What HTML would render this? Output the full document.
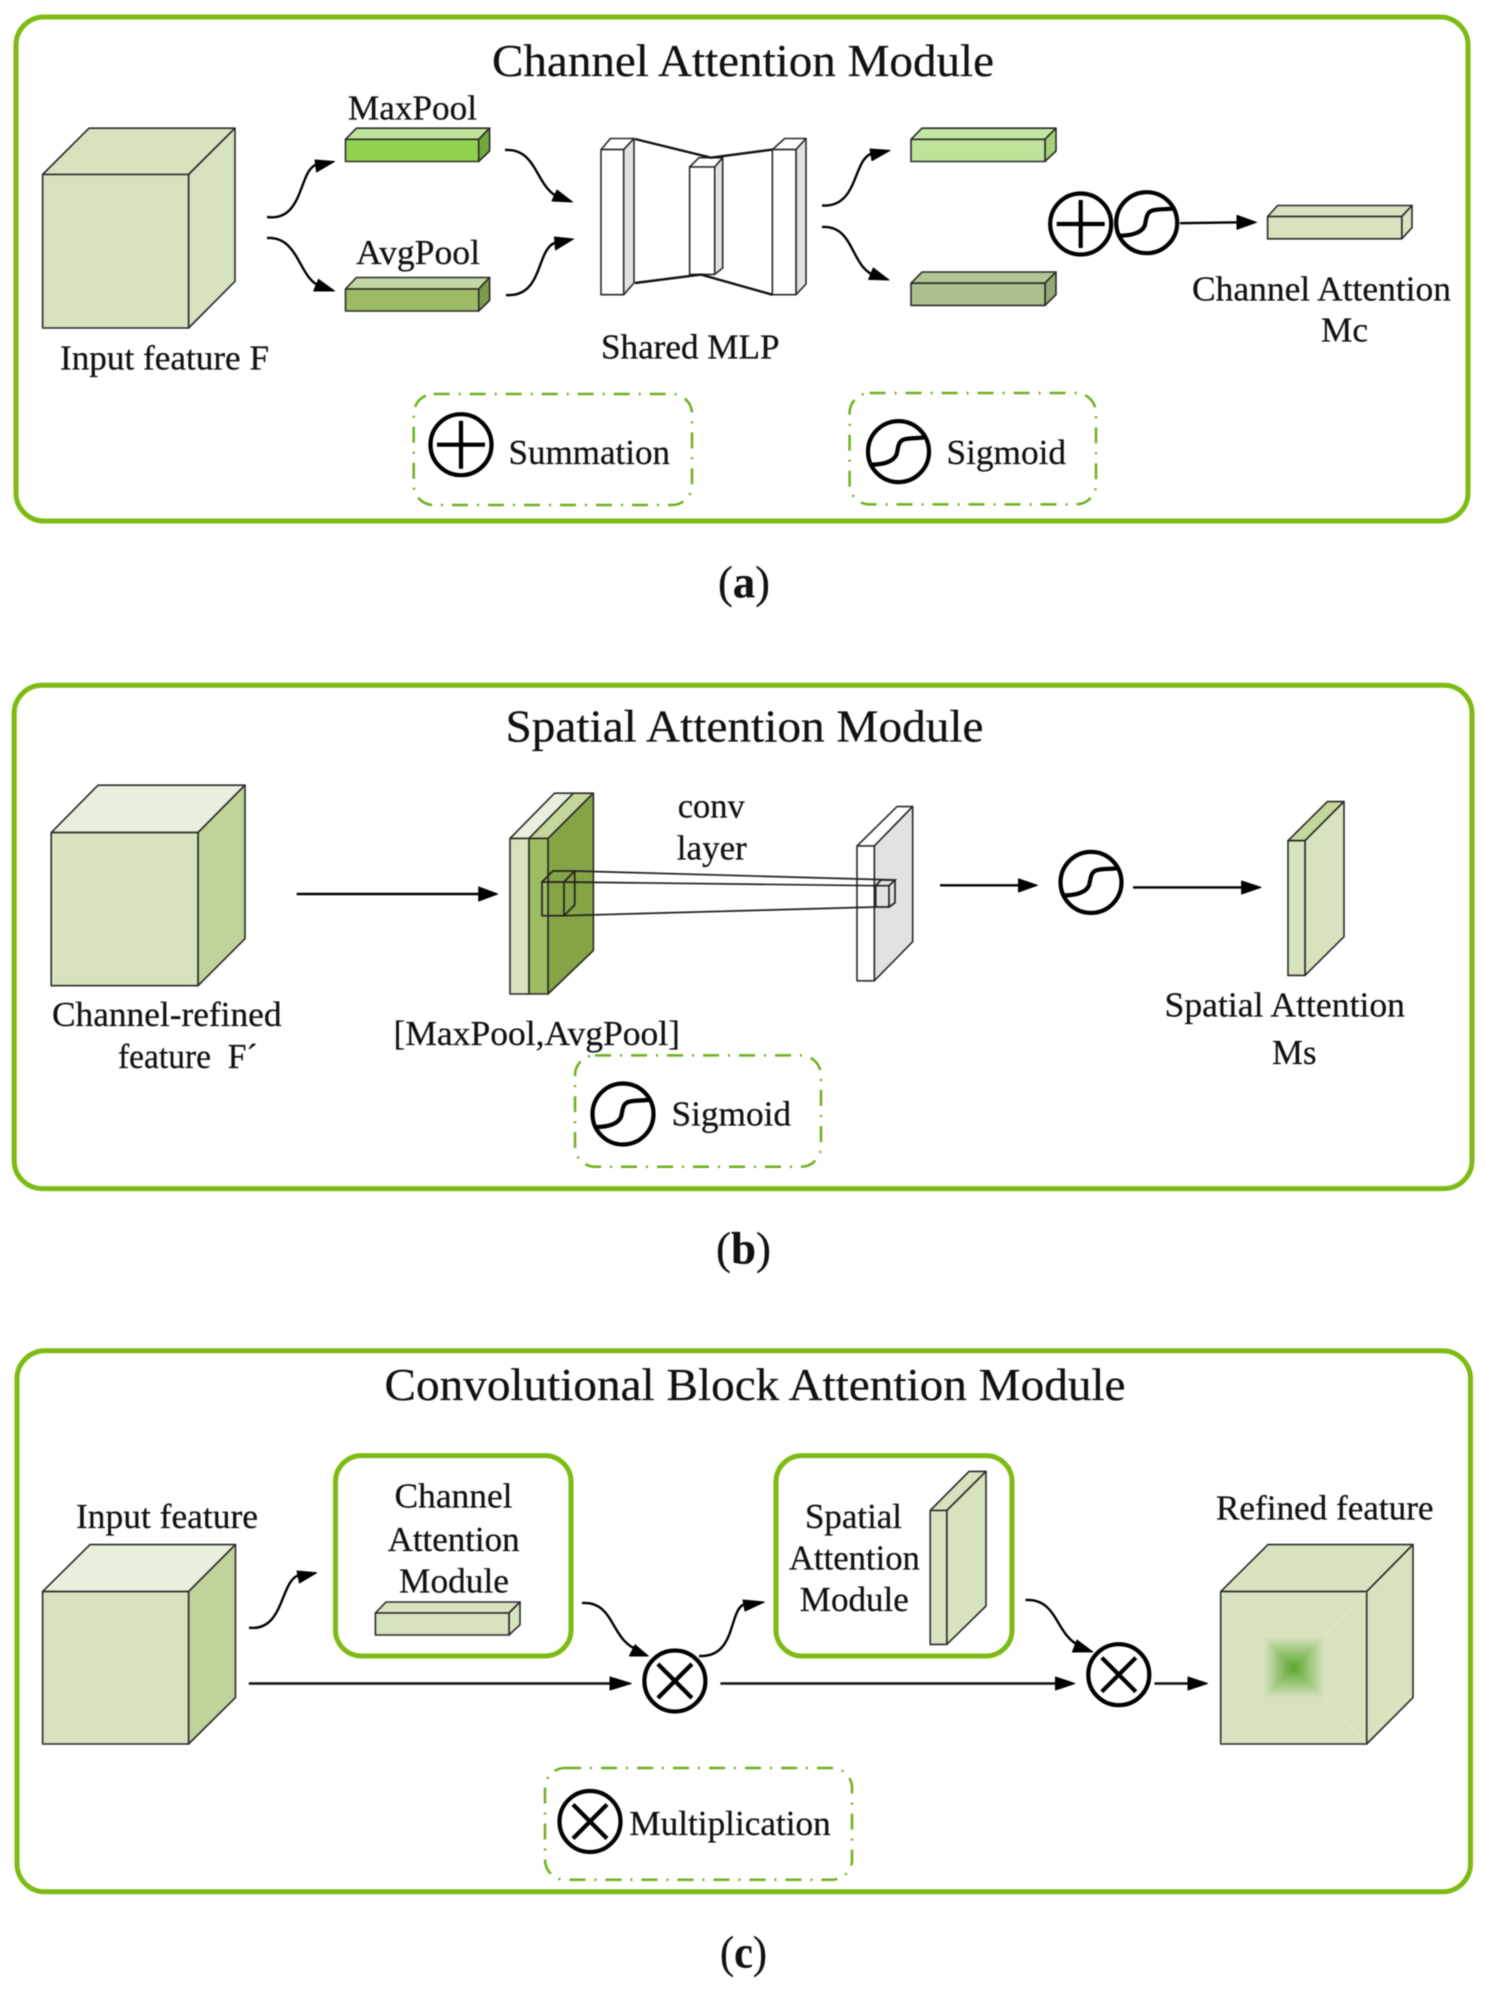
<!DOCTYPE html>
<html><head><meta charset="utf-8"><title>Attention modules</title>
<style>
html,body{margin:0;padding:0;background:#fff;width:1486px;height:1992px;overflow:hidden}
svg{display:block;filter:blur(.5px)}
text{font-family:"Liberation Serif","Times New Roman",serif;font-size:35px;fill:#111;stroke:#111;stroke-width:.25}
.t{font-size:46px}
.cap{font-size:46px}
.cap tspan{font-weight:bold}
.o{fill:none;stroke:#7dbb14;stroke-width:5}
.d{fill:none;stroke:#6fb01e;stroke-width:2.5;stroke-dasharray:16 9 2 9}
.s polygon,.s rect{stroke:#2a2a2a;stroke-width:1.6;stroke-linejoin:round}
.c{fill:none;stroke:#000;stroke-width:2.4}
.l{fill:none;stroke:#111;stroke-width:2.4}
.k{fill:#000;stroke:#000;stroke-width:1;stroke-linejoin:round}
.i{fill:#fff;stroke:#000;stroke-width:4.2}
.i2{fill:none;stroke:#000;stroke-width:4.2}
.m{fill:none;stroke:#222;stroke-width:1.7}
</style></head><body>
<svg xmlns="http://www.w3.org/2000/svg" width="1486" height="1992" viewBox="0 0 1486 1992">
<defs>
<g id="sig"><circle class="i" r="30.5"/><path class="i2" d="M-27 13C-15 13-5 10-2 3C0-4-1-11 7-12.5C14-14 20-13 28-14.5"/></g>
<g id="plus"><circle class="i" r="30.5"/><path class="i2" d="M-24 0H24M0-24V24"/></g>
<g id="times"><circle class="i" r="30.5"/><path class="i2" d="M-17-17L17 17M17-17L-17 17"/></g>
<linearGradient id="gl" x1="0" x2="1" y1="0" y2="0"><stop offset="0" stop-color="#5aa52a" stop-opacity="0"/><stop offset="1" stop-color="#5aa52a"/></linearGradient>
<linearGradient id="gr" x1="1" x2="0" y1="0" y2="0"><stop offset="0" stop-color="#5aa52a" stop-opacity="0"/><stop offset="1" stop-color="#5aa52a"/></linearGradient>
<linearGradient id="gt" x1="0" x2="0" y1="0" y2="1"><stop offset="0" stop-color="#5aa52a" stop-opacity="0"/><stop offset="1" stop-color="#5aa52a"/></linearGradient>
<linearGradient id="gb" x1="0" x2="0" y1="1" y2="0"><stop offset="0" stop-color="#5aa52a" stop-opacity="0"/><stop offset="1" stop-color="#5aa52a"/></linearGradient>
</defs>

<!-- Panel a -->
<rect class="o" x="16" y="17" width="1452" height="504" rx="28" ry="28"/>
<text class="t" x="492" y="76" textLength="502" lengthAdjust="spacingAndGlyphs">Channel Attention Module</text>
<g class="s">
<polygon fill="#d7e3bf" points="42.6,174.5 89,128.2 235,128.2 188.6,174.5"/>
<polygon fill="#d7e3bf" points="188.6,174.5 235,128.2 235,281.3 188.6,328"/>
<rect fill="#d7e3bf" x="42.6" y="174.5" width="146" height="153.5"/>
<polygon fill="#bfe29c" points="345.5,139.3 356.4,128.2 489.6,128.2 478.7,139.3"/>
<polygon fill="#70a83a" points="478.7,139.3 489.6,128.2 489.6,151 478.7,161.5"/>
<rect fill="#92d24e" x="345.5" y="139.3" width="133.2" height="22.2"/>
<polygon fill="#c3d6a3" points="345.5,289 356.4,277.5 489.6,277.5 478.7,289"/>
<polygon fill="#7d9c4a" points="478.7,289 489.6,277.5 489.6,300.4 478.7,311"/>
<rect fill="#9dbb62" x="345.5" y="289" width="133.2" height="22"/>
<!-- MLP -->
<polygon fill="#fff" points="601,149.6 610.4,138.5 634,138.5 623.7,149.6"/>
<polygon fill="#e2e2e2" points="623.7,149.6 634,138.5 634,283 623.7,294.7"/>
<rect fill="#fff" x="601" y="149.6" width="22.7" height="145.1"/>
<polygon fill="#fff" points="689.6,167 699,157.7 722.7,157.7 714.7,167"/>
<polygon fill="#e2e2e2" points="714.7,167 722.7,157.7 722.7,268 714.7,274.4"/>
<rect fill="#fff" x="689.6" y="167" width="25.1" height="107.4"/>
<polygon fill="#fff" points="772.4,149.6 784.7,138.5 806,138.5 796,149.6"/>
<polygon fill="#e2e2e2" points="796,149.6 806,138.5 806,284 796,294.7"/>
<rect fill="#fff" x="772.4" y="149.6" width="23.6" height="145.1"/>
<!-- right bars -->
<polygon fill="#c3e5a2" points="911,139.3 922,128.2 1056,128.2 1045,139.3"/>
<polygon fill="#a7d07c" points="1045,139.3 1056,128.2 1056,151 1045,161.5"/>
<rect fill="#bfe39a" x="911" y="139.3" width="134" height="22.2"/>
<polygon fill="#b3c493" points="911,283.2 922,272 1056,272 1045,283.2"/>
<polygon fill="#93a872" points="1045,283.2 1056,272 1056,294.7 1045,305.4"/>
<rect fill="#aebf8e" x="911" y="283.2" width="134" height="22.2"/>
<polygon fill="#d7e3bf" points="1267.6,216.6 1277.6,205.5 1412,205.5 1401.8,216.6"/>
<polygon fill="#d7e3bf" points="1401.8,216.6 1412,205.5 1412,227.7 1401.8,238.8"/>
<rect fill="#d7e3bf" x="1267.6" y="216.6" width="134.2" height="22.2"/>
</g>
<path class="l" d="M635 139L711 157.7L772.4 149.6M635 283L701 274.6L772.4 294.7"/>
<text x="348" y="119.4" textLength="129" lengthAdjust="spacingAndGlyphs">MaxPool</text>
<text x="356" y="264" textLength="124" lengthAdjust="spacingAndGlyphs">AvgPool</text>
<text x="60" y="369.3" textLength="209" lengthAdjust="spacingAndGlyphs">Input feature F</text>
<text x="601" y="358.6" textLength="178.5" lengthAdjust="spacingAndGlyphs">Shared MLP</text>
<text x="1192" y="300.4" textLength="259" lengthAdjust="spacingAndGlyphs">Channel Attention</text>
<text x="1321" y="341.4" textLength="47" lengthAdjust="spacingAndGlyphs">Mc</text>
<path class="c" d="M267 217C305 222 298 168 318 164"/><polygon class="k" points="315,160 334.6,161.5 316.6,172"/>
<path class="c" d="M267 238C300 236 298 280 322 287"/><polygon class="k" points="318.5,279.4 334.6,291 313.7,291"/>
<path class="c" d="M505 150C538 148 535 188 560 198"/><polygon class="k" points="557,190 572.5,202 552,201"/>
<path class="c" d="M506 295C545 298 535 245 558 242"/><polygon class="k" points="554.5,237 573.5,239 555.5,250"/>
<path class="c" d="M822 205.5C860 208 852 156 874 153"/><polygon class="k" points="870,149 890,150.4 872,160.7"/>
<path class="c" d="M822 227C855 225 850 268 876 276"/><polygon class="k" points="873.3,268 889,280 868.6,279.4"/>
<use href="#plus" x="1080.7" y="224"/>
<use href="#sig" x="1146.7" y="222.7"/>
<path class="c" d="M1180 223.2L1240 222.3"/><polygon class="k" points="1237,215.3 1256.5,222.3 1237,229.3"/>
<rect class="d" x="413.7" y="394" width="278.3" height="111" rx="20"/>
<use href="#plus" x="461" y="444.7"/>
<text x="508.5" y="463.8" textLength="161.5" lengthAdjust="spacingAndGlyphs">Summation</text>
<rect class="d" x="849.6" y="393" width="246.4" height="111.4" rx="20"/>
<use href="#sig" x="898.5" y="451.6"/>
<text x="946.5" y="463.8" textLength="119.5" lengthAdjust="spacingAndGlyphs">Sigmoid</text>
<text class="cap" x="718" y="597.7" textLength="52" lengthAdjust="spacingAndGlyphs">(<tspan>a</tspan>)</text>

<!-- Panel b -->
<rect class="o" x="14.2" y="685.3" width="1457.8" height="503.3" rx="28" ry="28"/>
<text class="t" x="505.5" y="741.6" textLength="478" lengthAdjust="spacingAndGlyphs">Spatial Attention Module</text>
<g class="s">
<polygon fill="#e9efdd" points="51.2,832.6 98,785.2 245,785.2 198,832.6"/>
<polygon fill="#c0d39b" points="198,832.6 245,785.2 245,938.7 198,985.7"/>
<rect fill="#d7e3bf" x="51.2" y="832.6" width="146.8" height="153.1"/>
<!-- stacked slab -->
<polygon fill="#e9efdd" points="510,838.4 554.5,793.2 573.5,793.2 529,838.4"/>
<polygon fill="#c3d69b" points="529,838.4 573.5,793.2 593.4,793.2 548,838.4"/>
<polygon fill="#85a445" points="548,838.4 593.4,793.2 593.4,950.5 548,994"/>
<rect fill="#d7e3bf" x="510" y="838.4" width="19" height="155.6"/>
<rect fill="#9dbb62" x="529" y="838.4" width="19" height="155.6"/>
<!-- plate -->
<polygon fill="#fff" points="857,846 897,806.6 912.7,806.6 874.3,846"/>
<polygon fill="#e2e2e2" points="874.3,846 912.7,806.6 912.7,941.7 874.3,980.8"/>
<rect fill="#fff" x="857" y="846" width="17.3" height="134.8"/>
<!-- Ms -->
<polygon fill="#c3d69b" points="1288,840.7 1327.4,801.6 1344,801.6 1305,840.7"/>
<polygon fill="#d7e3bf" points="1305,840.7 1344,801.6 1344,936.7 1305,975.4"/>
<rect fill="#d7e3bf" x="1288" y="840.7" width="17" height="134.7"/>
</g>
<path class="m" d="M542 882H564V915.7H542ZM542 882L552.9 871H574.7L564 882M574.7 871V905L564 915.7"/>
<path class="m" d="M574.7 871L895 880M564 882L875.7 885.7M564 915.7L875.7 907"/>
<path class="m" d="M875.7 885.7H889V907H875.7ZM875.7 885.7L881 880H895L889 885.7M895 880V902.7L889 907"/>
<text x="52" y="1026" textLength="229.5" lengthAdjust="spacingAndGlyphs">Channel-refined</text>
<text x="118" y="1068" textLength="139.5" lengthAdjust="spacingAndGlyphs" xml:space="preserve">feature  F´</text>
<text x="677.7" y="817.3" textLength="67" lengthAdjust="spacingAndGlyphs">conv</text>
<text x="676.8" y="859.4" textLength="70" lengthAdjust="spacingAndGlyphs">layer</text>
<text x="393.5" y="1045" textLength="286.5" lengthAdjust="spacingAndGlyphs">[MaxPool,AvgPool]</text>
<text x="1164.5" y="1016.3" textLength="240.5" lengthAdjust="spacingAndGlyphs">Spatial Attention</text>
<text x="1272" y="1064" textLength="44.5" lengthAdjust="spacingAndGlyphs">Ms</text>
<path class="c" d="M296.7 894H482"/><polygon class="k" points="478.7,887 497.6,894 478.7,901"/>
<path class="c" d="M940 885.3H1022"/><polygon class="k" points="1018.5,878.8 1037.5,885.3 1018.5,892"/>
<use href="#sig" x="1091" y="882.4"/>
<path class="c" d="M1133 887.4H1245"/><polygon class="k" points="1241.6,881 1261,887.4 1241.6,894"/>
<rect class="d" x="575" y="1055.4" width="246" height="111.3" rx="20"/>
<use href="#sig" x="623" y="1114"/>
<text x="671.5" y="1125.4" textLength="119.5" lengthAdjust="spacingAndGlyphs">Sigmoid</text>
<text class="cap" x="716" y="1263.5" textLength="55" lengthAdjust="spacingAndGlyphs">(<tspan>b</tspan>)</text>

<!-- Panel c -->
<rect class="o" x="17" y="1350.8" width="1453.5" height="541" rx="28" ry="28"/>
<text class="t" x="384.5" y="1400" textLength="741" lengthAdjust="spacingAndGlyphs">Convolutional Block Attention Module</text>
<g class="s">
<polygon fill="#e9efdd" points="42.6,1591.6 90,1544.6 235.5,1544.6 188.6,1591.6"/>
<polygon fill="#c0d39b" points="188.6,1591.6 235.5,1544.6 235.5,1697.6 188.6,1744"/>
<rect fill="#d7e3bf" x="42.6" y="1591.6" width="146" height="152.4"/>
<polygon fill="#d7e3bf" points="375.4,1613 386,1602 520,1602 509,1613"/>
<polygon fill="#d7e3bf" points="509,1613 520,1602 520,1624.8 509,1635"/>
<rect fill="#d7e3bf" x="375.4" y="1613" width="133.6" height="22"/>
<polygon fill="#d7e3bf" points="930.2,1510.5 969,1471.4 986,1471.4 946.8,1510.5"/>
<polygon fill="#d7e3bf" points="946.8,1510.5 986,1471.4 986,1606 946.8,1644.4"/>
<rect fill="#d7e3bf" x="930.2" y="1510.5" width="16.6" height="133.9"/>
<polygon fill="#d7e3bf" points="1220.7,1591.6 1268,1544.6 1413,1544.6 1366.7,1591.6"/>
<polygon fill="#d7e3bf" points="1366.7,1591.6 1413,1544.6 1413,1697.6 1366.7,1744"/>
<rect fill="#d7e3bf" x="1220.7" y="1591.6" width="146" height="152.4"/>
</g>
<path d="M1221.5 1592.5L1264 1637M1366 1592.5L1324 1637M1221.5 1743L1264 1698M1366 1743L1324 1698" fill="none" stroke="#dfe8cc" stroke-width="1"/>
<polygon fill="url(#gl)" points="1264,1637.3 1293.8,1667.5 1264,1697.6"/>
<polygon fill="url(#gr)" points="1323.6,1637.3 1293.8,1667.5 1323.6,1697.6"/>
<polygon fill="url(#gt)" points="1264,1637.3 1293.8,1667.5 1323.6,1637.3"/>
<polygon fill="url(#gb)" points="1264,1697.6 1293.8,1667.5 1323.6,1697.6"/>
<rect class="o" x="335.5" y="1455.6" width="235.5" height="200.4" rx="26"/>
<rect class="o" x="776" y="1455.6" width="236" height="200.4" rx="26"/>
<text x="76" y="1528" textLength="182" lengthAdjust="spacingAndGlyphs">Input feature</text>
<text x="394.5" y="1507.6" textLength="118" lengthAdjust="spacingAndGlyphs">Channel</text>
<text x="387.6" y="1550.8" textLength="132" lengthAdjust="spacingAndGlyphs">Attention</text>
<text x="399" y="1592.4" textLength="110" lengthAdjust="spacingAndGlyphs">Module</text>
<text x="805" y="1528" textLength="97" lengthAdjust="spacingAndGlyphs">Spatial</text>
<text x="788.9" y="1569.5" textLength="131" lengthAdjust="spacingAndGlyphs">Attention</text>
<text x="799.8" y="1611" textLength="109" lengthAdjust="spacingAndGlyphs">Module</text>
<text x="1216" y="1519.6" textLength="217.5" lengthAdjust="spacingAndGlyphs">Refined feature</text>
<path class="c" d="M249 1627.7C285 1632 280 1578 300 1575"/><polygon class="k" points="297,1571 316.6,1572.8 299.5,1583"/>
<path class="l" d="M248.8 1683.5H614"/><polygon class="k" points="610,1677 631.3,1683.5 610,1690"/>
<path class="c" d="M582 1603C615 1601 610 1640 638 1650"/><polygon class="k" points="635,1644.8 648.3,1656 629.4,1656"/>
<use href="#times" x="674.9" y="1681"/>
<path class="c" d="M699 1656C738 1658 728 1606 746 1604"/><polygon class="k" points="743,1600 764.3,1602 745,1611"/>
<path class="l" d="M720.4 1683.5H1058"/><polygon class="k" points="1055.5,1677 1074.8,1683.5 1055.5,1690"/>
<path class="c" d="M1025.5 1600C1058 1598 1055 1635 1080 1646"/><polygon class="k" points="1077,1640 1092.8,1651.9 1072.4,1652"/>
<use href="#times" x="1118.8" y="1674.7"/>
<path class="l" d="M1154.4 1683.5H1190"/><polygon class="k" points="1188,1677 1207.5,1683.5 1188,1690"/>
<rect class="d" x="545" y="1768" width="307" height="111.7" rx="20"/>
<use href="#times" x="590" y="1821.5"/>
<text x="629.4" y="1834.8" textLength="201.3" lengthAdjust="spacingAndGlyphs">Multiplication</text>
<text class="cap" x="720" y="1967.3" textLength="47" lengthAdjust="spacingAndGlyphs">(<tspan>c</tspan>)</text>
</svg>
</body></html>
